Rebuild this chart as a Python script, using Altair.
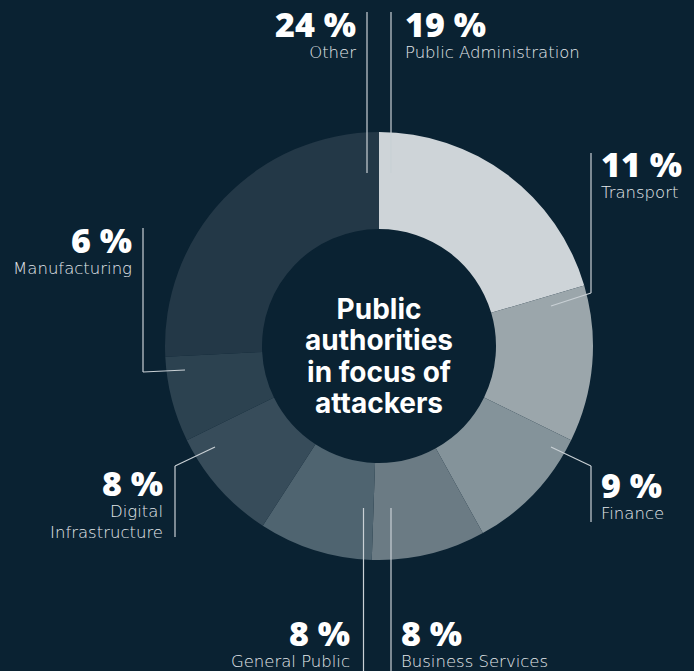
import altair as alt
import pandas as pd

# ---- data ----
sectors = ["Public Administration", "Transport", "Finance", "Business Services",
           "General Public", "Digital Infrastructure", "Manufacturing", "Other"]
values = [19, 11, 9, 8, 8, 8, 6, 24]
label_lines = [["Public Administration"], ["Transport"], ["Finance"], ["Business Services"],
               ["General Public"], ["Digital", "Infrastructure"], ["Manufacturing"], ["Other"]]
center_lines = ["Public", "authorities", "in focus of", "attackers"]

# ---- styles / layout ----
colors = ["#ced4d8", "#9ba6ab", "#84939a", "#6b7b84", "#4f6470", "#374c5a", "#2c4250", "#233847"]
BG = "#0a2232"
W, H = 694, 671
CX, CY = 379, 346
R_IN, R_OUT = 117, 214

callout_align = ["left", "left", "left", "left", "right", "right", "right", "right"]
callout_x = [405, 601, 601, 401, 350, 163, 132, 356]
callout_y = [37, 177, 498, 646, 646, 496, 253, 37]
leader_paths = [
    [(391, 12), (391, 173)],
    [(591, 153), (591, 293), (551, 306)],
    [(551, 447), (591, 466), (591, 522)],
    [(391, 508), (391, 671)],
    [(363.5, 508), (363.5, 671)],
    [(215, 447), (175, 466), (175, 537)],
    [(143, 228), (143, 372), (185, 370)],
    [(367, 12), (367, 173)],
]
center_y0, center_step = 319, 31.3

xs = alt.Scale(domain=[0, W], nice=False, zero=False)
ys = alt.Scale(domain=[0, H], nice=False, zero=False, reverse=True)

arc_df = pd.DataFrame({"sector": sectors, "value": values, "idx": list(range(len(sectors)))})
arcs = alt.Chart(arc_df).mark_arc(innerRadius=R_IN, outerRadius=R_OUT).encode(
    theta=alt.Theta("value:Q", stack=True),
    order=alt.Order("idx:Q"),
    color=alt.Color("sector:N", scale=alt.Scale(domain=sectors, range=colors), legend=None),
    x=alt.value(CX), y=alt.value(CY),
)

seg_rows = []
for s, path in zip(sectors, leader_paths):
    for (x1, y1), (x2, y2) in zip(path[:-1], path[1:]):
        seg_rows.append({"sector": s, "x": x1, "y": y1, "x2": x2, "y2": y2})
seg_df = pd.DataFrame(seg_rows)
rules = alt.Chart(seg_df).mark_rule(color="#c9d0d5", strokeWidth=1.2).encode(
    x=alt.X("x:Q", scale=xs, axis=None), y=alt.Y("y:Q", scale=ys, axis=None),
    x2="x2:Q", y2="y2:Q",
)

txt_rows = []
for s, v, lines, al, x, y in zip(sectors, values, label_lines, callout_align, callout_x, callout_y):
    txt_rows.append({"kind": "pct", "align": al, "text": f"{v} %", "x": x, "y": y})
    for i, ln in enumerate(lines):
        txt_rows.append({"kind": "name", "align": al, "text": ln, "x": x, "y": y + 21 + 20.5 * i})
txt_df = pd.DataFrame(txt_rows)

layers = [arcs, rules]
for al in ["left", "right"]:
    layers.append(alt.Chart(txt_df).transform_filter(
        (alt.datum.kind == "pct") & (alt.datum.align == al)
    ).mark_text(align=al, baseline="alphabetic", font="Open Sans", fontWeight=800,
                fontSize=34, color="#ffffff").encode(
        x=alt.X("x:Q", scale=xs, axis=None), y=alt.Y("y:Q", scale=ys, axis=None), text="text:N"))
    layers.append(alt.Chart(txt_df).transform_filter(
        (alt.datum.kind == "name") & (alt.datum.align == al)
    ).mark_text(align=al, baseline="alphabetic", font="DejaVu Sans", fontWeight=200,
                fontSize=16.5, color="#e4e8eb").encode(
        x=alt.X("x:Q", scale=xs, axis=None), y=alt.Y("y:Q", scale=ys, axis=None), text="text:N"))

center_df = pd.DataFrame({"text": center_lines,
                          "x": [CX] * len(center_lines),
                          "y": [center_y0 + center_step * i for i in range(len(center_lines))]})
layers.append(alt.Chart(center_df).mark_text(align="center", baseline="alphabetic", font="Inter",
                                             fontWeight="bold", fontSize=28, color="#ffffff").encode(
    x=alt.X("x:Q", scale=xs, axis=None), y=alt.Y("y:Q", scale=ys, axis=None), text="text:N"))

chart = alt.layer(*layers).properties(
    width=W, height=H, padding=0, autosize=alt.AutoSizeParams(type="none"),
    background=BG,
).configure_view(stroke=None)

chart.save("out.html", embed_options={"renderer": "svg", "actions": False})
